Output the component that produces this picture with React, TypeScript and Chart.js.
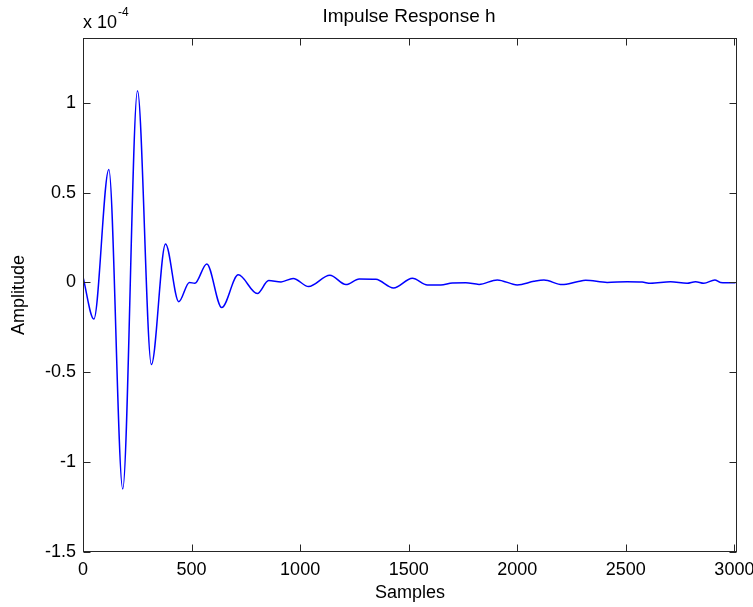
import { useEffect, useRef } from "react";
import { Chart, registerables } from "chart.js";

Chart.register(...registerables);

// Sample index of each read-off extremum / turning point
const SAMPLES = [
  0, 50, 119, 183, 251, 315, 380, 441, 490, 515, 570, 639, 715, 803, 855, 912,
  968, 1039, 1137, 1211, 1272, 1349, 1430, 1517, 1586, 1648, 1701, 1763, 1824,
  1908, 2000, 2077, 2123, 2207, 2276, 2315, 2414, 2506, 2575, 2614, 2706, 2782,
  2821, 2859, 2910, 2936, 3005,
];
// Amplitude in units of 1e-4
const AMPLITUDE_E4 = [
  0.03, -0.204, 0.629, -1.149, 1.066, -0.457, 0.214, -0.107, 0.0, -0.005, 0.103,
  -0.14, 0.042, -0.062, 0.01, 0.003, 0.022, -0.023, 0.04, -0.012, 0.019, 0.017,
  -0.031, 0.023, -0.014, -0.014, -0.003, -0.002, -0.011, 0.014, -0.014, 0.006,
  0.013, -0.012, 0.004, 0.012, 0.0, 0.004, 0.002, -0.005, 0.004, -0.005, 0.004,
  -0.005, 0.014, 0.0, -0.002,
];

const X_TICKS = [0, 500, 1000, 1500, 2000, 2500, 3000];
const Y_TICKS = [-1.5, -1, -0.5, 0, 0.5, 1];
const X_MIN = 0;
const X_MAX = 3012;
const Y_MIN = -1.5;
const Y_MAX = 1.36;

const TITLE = "Impulse Response h";
const X_LABEL = "Samples";
const Y_LABEL = "Amplitude";
const EXP_BASE = "x 10";
const EXP_POWER = "-4";

const FONT_FAMILY = "'Liberation Sans', Arial, Helvetica, sans-serif";

export default function App() {
  const canvasRef = useRef<HTMLCanvasElement | null>(null);

  useEffect(() => {
    const canvas = canvasRef.current;
    if (!canvas) return;

    const framePlugin = {
      id: "matlabFrame",
      afterDraw(chart: any) {
        const ctx = chart.ctx as CanvasRenderingContext2D;
        const { left, right, top, bottom } = chart.chartArea;
        const L = Math.round(left) + 0.5;
        const R = Math.round(right) - 0.5;
        const T = Math.round(top) + 0.5;
        const B = Math.round(bottom) - 0.5;
        const tl = 7;
        ctx.save();
        ctx.strokeStyle = "#262626";
        ctx.lineWidth = 1;
        ctx.strokeRect(L, T, R - L, B - T);
        ctx.beginPath();
        const xs = chart.scales.x;
        X_TICKS.forEach((v) => {
          const px = Math.round(xs.getPixelForValue(v)) + 0.5;
          ctx.moveTo(px, B);
          ctx.lineTo(px, B - tl);
          ctx.moveTo(px, T);
          ctx.lineTo(px, T + tl);
        });
        const ys = chart.scales.y;
        Y_TICKS.forEach((v) => {
          const py = Math.round(ys.getPixelForValue(v)) + 0.5;
          ctx.moveTo(L, py);
          ctx.lineTo(L + tl, py);
          ctx.moveTo(R, py);
          ctx.lineTo(R - tl, py);
        });
        ctx.stroke();

        // title and exponent label
        ctx.fillStyle = "#000";
        ctx.textBaseline = "alphabetic";
        ctx.textAlign = "center";
        ctx.font = `19px ${FONT_FAMILY}`;
        ctx.fillText(TITLE, 409, 22);
        ctx.font = `18px ${FONT_FAMILY}`;
        ctx.textAlign = "left";
        ctx.fillText(EXP_BASE, 83, 28);
        const w = ctx.measureText(EXP_BASE).width;
        ctx.font = `12px ${FONT_FAMILY}`;
        ctx.fillText(EXP_POWER, 83 + w + 1, 16);
        ctx.restore();
      },
    };

    const tickFont = { family: FONT_FAMILY, size: 18 };

    const chart = new Chart(canvas, {
      type: "line",
      data: {
        datasets: [
          {
            data: SAMPLES.map((s, i) => ({ x: s, y: AMPLITUDE_E4[i] })),
            borderColor: "#0000ff",
            borderWidth: 1.5,
            pointRadius: 0,
            fill: false,
            cubicInterpolationMode: "monotone",
          },
        ],
      },
      options: {
        animation: false,
        responsive: false,
        devicePixelRatio: 1,
        layout: { padding: { top: 38, right: 16, left: 0, bottom: 0 } },
        plugins: {
          legend: { display: false },
          tooltip: { enabled: false },
          title: { display: false },
        },
        scales: {
          x: {
            type: "linear",
            min: X_MIN,
            max: X_MAX,
            afterBuildTicks: (s: any) => {
              s.ticks = X_TICKS.map((v) => ({ value: v }));
            },
            afterFit: (s: any) => {
              s.height = 55;
              s.paddingLeft = 0;
              s.paddingRight = 0;
            },
            grid: { display: false, drawTicks: false },
            border: { display: false },
            ticks: {
              padding: 7,
              font: tickFont,
              color: "#000",
              maxRotation: 0,
              autoSkip: false,
              callback: (v: any) => String(v),
            },
            title: {
              display: true,
              text: X_LABEL,
              font: tickFont,
              color: "#000",
              padding: { top: 0, bottom: 3 },
            },
          },
          y: {
            type: "linear",
            min: Y_MIN,
            max: Y_MAX,
            afterBuildTicks: (s: any) => {
              s.ticks = Y_TICKS.map((v) => ({ value: v }));
            },
            afterFit: (s: any) => {
              s.width = 83;
              s.paddingTop = 0;
              s.paddingBottom = 0;
            },
            grid: { display: false, drawTicks: false },
            border: { display: false },
            ticks: {
              padding: 7,
              font: tickFont,
              color: "#000",
              callback: (v: any) => String(v),
            },
            title: {
              display: true,
              text: Y_LABEL,
              font: tickFont,
              color: "#000",
              padding: { top: 8, bottom: 0 },
            },
          },
        },
      },
      plugins: [framePlugin],
    } as any);

    return () => chart.destroy();
  }, []);

  return (
    <canvas
      ref={canvasRef}
      width={753}
      height={607}
      style={{ position: "fixed", left: 0, top: 0, width: 753, height: 607, background: "#fff" }}
    />
  );
}
